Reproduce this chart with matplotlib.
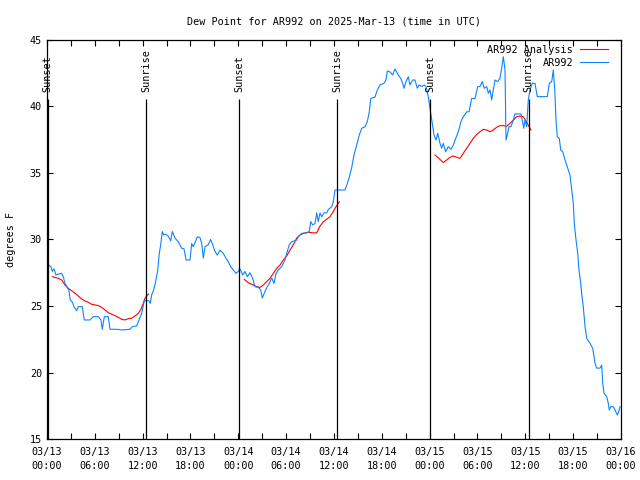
import numpy as np
import pandas as pd
import matplotlib
matplotlib.use('Agg')
import matplotlib.pyplot as plt
import matplotlib.dates as mdates

plt.rcParams['font.family'] = 'DejaVu Sans Mono'
plt.rcParams['font.size'] = 7.3

# data: hours after 2025-03-13 00:00 UTC, dew point in degrees F
obs_hours = [0.16, 0.50, 0.66, 0.88, 1.13, 1.42, 1.84, 2.04, 2.26, 2.51, 2.76, 2.92, 3.17, 3.42, 3.73,
             3.93, 4.43, 4.68, 5.39, 5.81, 6.44, 6.77, 6.94, 7.19, 7.69, 7.81, 7.90, 8.74, 9.45, 10.41,
             10.70, 11.25, 11.54, 11.88, 12.21, 12.79, 12.96, 13.13, 13.38, 13.63, 13.89, 14.09, 14.26,
             14.46, 14.64, 14.89, 15.22, 15.52, 15.72, 16.06, 16.47, 16.90, 17.19, 17.44, 17.94, 18.15,
             18.35, 18.56, 18.85, 19.19, 19.41, 19.61, 19.82, 20.23, 20.53, 20.79, 21.07, 21.36, 21.70,
             22.11, 22.45, 22.74, 23.04, 23.37, 23.71, 24.00, 24.21, 24.55, 24.84, 25.13, 25.46, 25.80,
             26.09, 26.51, 26.81, 27.01, 27.35, 27.63, 27.89, 28.19, 28.48, 28.73, 29.01, 29.44, 29.85,
             30.14, 30.39, 30.69, 31.32, 31.52, 31.95, 32.58, 32.90, 33.08, 33.33, 33.62, 33.83, 34.03,
             34.25, 34.46, 34.75, 35.09, 35.29, 35.71, 35.91, 36.13, 37.38, 37.67, 37.92, 38.22, 38.51,
             38.85, 39.17, 39.48, 39.89, 40.18, 40.43, 40.61, 41.14, 41.43, 41.77, 42.27, 42.52, 42.69,
             43.03, 43.36, 43.65, 44.07, 44.37, 44.62, 44.78, 45.03, 45.32, 45.53, 45.87, 46.16, 46.45,
             46.70, 47.00, 47.33, 47.54, 47.83, 48.04, 48.33, 48.54, 48.80, 49.01, 49.30, 49.51, 49.71,
             50.01, 50.34, 50.68, 50.97, 51.27, 51.59, 51.93, 52.22, 52.65, 52.94, 53.27, 53.69, 54.03,
             54.31, 54.60, 54.85, 55.16, 55.36, 55.57, 55.78, 55.98, 56.20, 56.53, 56.82, 57.03, 57.24,
             57.45, 57.58, 57.79, 57.95, 58.20, 58.49, 58.70, 59.46, 59.62, 59.80, 59.96, 60.17, 60.37,
             60.59, 60.88, 61.21, 61.50, 62.76, 63.01, 63.31, 63.51, 63.69, 63.85, 64.01, 64.26, 64.44,
             64.69, 64.98, 65.19, 65.39, 65.60, 65.82, 66.02, 66.14, 66.36, 66.57, 66.73, 66.95, 67.11,
             67.27, 67.49, 67.70, 68.11, 68.45, 68.74, 68.95, 69.37, 69.58, 69.71, 69.87, 70.21, 70.41,
             70.53, 70.71, 71.04, 71.25, 71.54, 71.71, 71.88]
obs_dewpt = [28.1, 27.96, 27.6, 27.8, 27.33, 27.4, 27.45, 27.2, 26.7, 26.45, 26.15, 25.45, 25.3, 24.9, 24.65,
             24.95, 24.95, 23.95, 23.95, 24.2, 24.2, 23.95, 23.25, 24.2, 24.2, 23.7, 23.25, 23.25, 23.2, 23.25,
             23.45, 23.5, 23.95, 24.45, 25.4, 25.4, 25.2, 25.83, 26.2, 26.83, 27.7, 28.96, 29.6,
             30.6, 30.34, 30.4, 30.25, 29.9, 30.6, 30.1, 29.83, 29.34, 29.3, 28.46, 28.46, 29.7,
             29.46, 29.76, 30.2, 30.15, 29.7, 28.6, 29.46, 29.6, 30.0, 29.6, 29.1, 28.83, 29.2,
             28.96, 28.6, 28.33, 27.96, 27.7, 27.45, 27.6, 27.8, 27.33, 27.6, 27.2, 27.5, 27.08,
             26.45, 26.4, 26.2, 25.6, 26.1, 26.45, 26.7, 27.1, 26.7, 27.45, 27.7, 27.96, 28.46,
             29.1, 29.6, 29.83, 29.96, 30.2, 30.46, 30.5, 30.6, 31.34, 31.1, 31.2, 32.0, 31.34,
             32.0, 31.7, 32.0, 32.0, 32.26, 32.46, 32.83, 33.72, 33.72, 34.2, 34.68, 35.4, 36.35,
             37.1, 37.86, 38.36, 38.48, 38.86, 39.6, 40.6, 40.7, 41.24, 41.62, 41.74, 41.99, 42.67,
             42.6, 42.37, 42.82, 42.37, 42.12, 41.74, 41.37, 41.87, 42.24, 41.62, 41.99, 41.99, 41.37,
             41.62, 41.5, 41.62, 41.5, 40.74, 39.86, 38.74, 37.86, 37.48, 37.98, 37.23, 36.86, 37.23,
             36.6, 36.98, 36.78, 37.1, 37.6, 38.1, 38.86, 39.23, 39.6, 39.6, 40.6, 40.6, 41.5,
             41.5, 41.87, 41.37, 41.5, 40.99, 41.24, 40.49, 41.24, 41.99, 41.87, 42.12, 42.87, 43.74,
             42.75, 37.48, 37.98, 38.48, 38.48, 38.98, 39.44, 39.44, 38.98, 38.36, 38.98, 38.48, 40.49,
             41.24, 41.74, 41.74, 40.74, 40.74, 41.74, 41.87, 42.75, 41.24, 38.98, 37.73, 37.6, 36.73,
             36.6, 35.98, 35.6, 35.23, 34.85, 33.72, 32.72, 31.22, 29.96, 28.96, 27.7, 26.7, 25.7,
             24.95, 23.45, 22.57, 22.2, 21.82, 20.7, 20.33, 20.33, 20.56, 19.19, 18.44, 18.18, 17.68,
             17.18, 17.43, 17.43, 17.18, 16.8, 17.05, 17.43]

# analysis runs (three separate stretches)
ana_hours = [
    [0.66, 1.00, 1.42, 1.84, 2.26, 2.67, 3.10, 3.51, 3.93, 4.35, 4.77, 5.18, 5.61, 6.02, 6.44,
     6.86, 7.28, 7.69, 8.12, 8.53, 8.94, 9.37, 9.78, 10.20, 10.62, 11.04, 11.45, 11.79, 12.00,
     12.29, 12.51, 12.71],
    [24.75, 25.25, 25.88, 26.30, 26.72, 27.13, 27.56, 27.97, 28.39, 28.81, 29.23, 29.64, 30.07,
     30.48, 30.90, 31.32, 31.74, 32.15, 32.78, 33.40, 33.83, 34.24, 34.66, 35.09, 35.50, 35.91,
     36.25, 36.54, 36.67],
    [48.67, 49.17, 49.71, 50.14, 50.55, 50.97, 51.39, 51.81, 52.22, 52.65, 53.06, 53.48, 53.90,
     54.31, 54.73, 55.16, 55.57, 55.98, 56.41, 56.82, 57.24, 57.66, 58.08, 58.49, 58.92, 59.33,
     59.75, 60.05, 60.37, 60.71],
]
ana_dewpt = [
    [27.2, 27.15, 27.08, 26.96, 26.58, 26.33, 26.15, 25.96, 25.75, 25.53, 25.38, 25.28, 25.13, 25.08, 25.03,
     24.9, 24.7, 24.5, 24.38, 24.27, 24.15, 24.0, 23.95, 24.05, 24.08, 24.25, 24.45, 24.75, 25.08,
     25.58, 25.75, 25.9],
    [27.0, 26.75, 26.58, 26.45, 26.4, 26.58, 26.83, 27.08, 27.45, 27.83, 28.08, 28.46, 28.76,
     29.2, 29.6, 30.1, 30.34, 30.46, 30.54, 30.5, 30.5, 31.0, 31.34, 31.52, 31.72, 32.1,
     32.46, 32.72, 32.84],
    [36.35, 36.1, 35.78, 35.98, 36.18, 36.28, 36.18, 36.1, 36.48, 36.86, 37.23, 37.6, 37.9,
     38.1, 38.28, 38.23, 38.1, 38.23, 38.44, 38.56, 38.56, 38.5, 38.74, 38.98, 39.23, 39.28,
     39.23, 38.93, 38.6, 38.23],
]

sun_hours = [0.1, 12.45, 24.1, 36.4, 48.1, 60.4]
sun_labels = ['Sunset', 'Sunrise', 'Sunset', 'Sunrise', 'Sunset', 'Sunrise']

t0 = pd.Timestamp('2025-03-13 00:00')


def to_time(hours):
    return t0 + pd.to_timedelta(np.asarray(hours, dtype=float), unit='h')


fig = plt.figure(figsize=(6.4, 4.8), dpi=100)
ax = fig.add_axes([0.0734, 0.0854, 0.8969, 0.8313])

red = '#ff0000'
blue = '#0a84ff'
for hh, vv in zip(ana_hours, ana_dewpt):
    l_ana, = ax.plot(to_time(hh), vv, color=red, lw=0.8)
l_obs, = ax.plot(to_time(obs_hours), obs_dewpt, color=blue, lw=0.8)

for h, lab in zip(sun_hours, sun_labels):
    t = t0 + pd.Timedelta(hours=h)
    ax.vlines(t, 15, 40.55, color='black', lw=0.9)
    ax.text(t, 41.1, lab, rotation=90, ha='center', va='bottom')

ax.set_xlim(t0, t0 + pd.Timedelta(hours=72))
ax.set_ylim(15, 45)
ax.set_yticks(range(15, 46, 5))
ax.xaxis.set_major_locator(mdates.HourLocator(byhour=[0, 6, 12, 18]))
ax.xaxis.set_minor_locator(mdates.HourLocator(byhour=[3, 9, 15, 21]))
ax.xaxis.set_major_formatter(mdates.DateFormatter('%m/%d\n%H:%M'))
ax.tick_params(which='both', direction='in', top=True, right=True, length=4, width=0.8)
ax.tick_params(axis='x', pad=6)
for lbl in ax.get_xticklabels():
    lbl.set_linespacing(1.45)
for s in ax.spines.values():
    s.set_linewidth(0.9)

ax.set_ylabel('degrees F', labelpad=10)
ax.set_title('Dew Point for AR992 on 2025-Mar-13 (time in UTC)', fontsize=7.3, pad=11)

ax.legend(handles=[l_ana, l_obs], labels=['AR992 Analysis', 'AR992'], loc='upper right',
          bbox_to_anchor=(0.98, 0.99), frameon=False, markerfirst=False,
          handlelength=2.8, handletextpad=0.7, labelspacing=0.3, borderaxespad=0,
          borderpad=0.1)

fig.savefig('out.png', dpi=100)
